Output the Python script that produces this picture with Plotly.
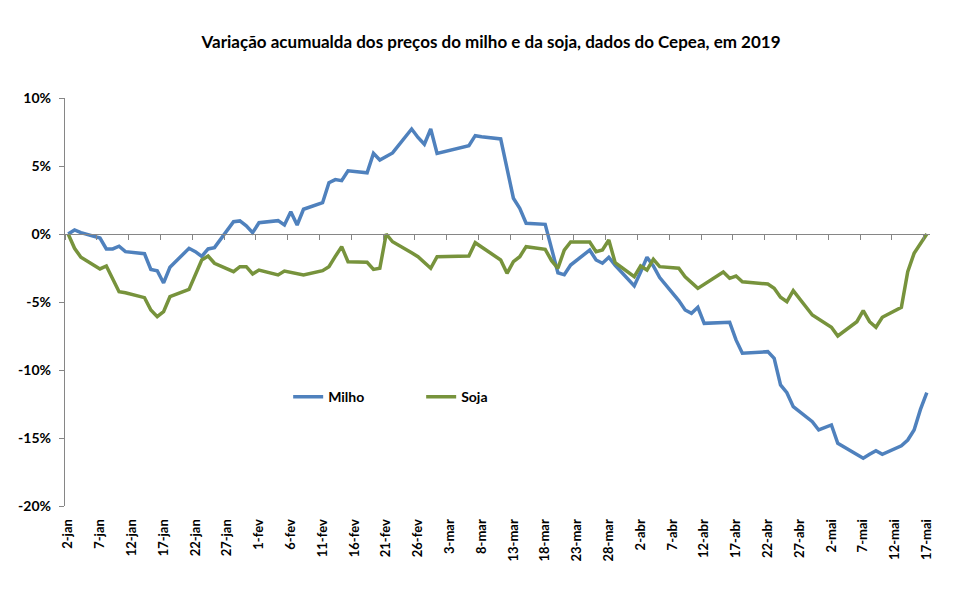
import plotly.graph_objects as go
from datetime import date, timedelta

# ---------------- data ----------------
milho_dates = ["2019-01-02","2019-01-03","2019-01-04","2019-01-07","2019-01-08","2019-01-09","2019-01-10","2019-01-11",
    "2019-01-14","2019-01-15","2019-01-16","2019-01-17","2019-01-18","2019-01-21","2019-01-22","2019-01-23","2019-01-24",
    "2019-01-25","2019-01-28","2019-01-29","2019-01-30","2019-01-31","2019-02-01","2019-02-04","2019-02-05","2019-02-06",
    "2019-02-07","2019-02-08","2019-02-11","2019-02-12","2019-02-13","2019-02-14","2019-02-15","2019-02-18","2019-02-19",
    "2019-02-20","2019-02-21","2019-02-22","2019-02-25","2019-02-26","2019-02-27","2019-02-28","2019-03-01","2019-03-06",
    "2019-03-07","2019-03-08","2019-03-11","2019-03-12","2019-03-13","2019-03-14","2019-03-15","2019-03-18","2019-03-19",
    "2019-03-20","2019-03-21","2019-03-22","2019-03-25","2019-03-26","2019-03-27","2019-03-28","2019-03-29","2019-04-01",
    "2019-04-02","2019-04-03","2019-04-04","2019-04-05","2019-04-08","2019-04-09","2019-04-10","2019-04-11","2019-04-12",
    "2019-04-15","2019-04-16","2019-04-17","2019-04-18","2019-04-22","2019-04-23","2019-04-24","2019-04-25","2019-04-26",
    "2019-04-29","2019-04-30","2019-05-02","2019-05-03","2019-05-06","2019-05-07","2019-05-08","2019-05-09","2019-05-10",
    "2019-05-13","2019-05-14","2019-05-15","2019-05-16","2019-05-17"]
milho_vals = [0.0, 0.3, 0.1, -0.3, -1.1, -1.1, -0.9, -1.3,
    -1.45, -2.6, -2.7, -3.6, -2.45, -1.05, -1.3, -1.65, -1.1,
    -1.0, 0.9, 0.96, 0.6, 0.1, 0.83, 0.98, 0.66, 1.64,
    0.66, 1.82, 2.3, 3.77, 4.0, 3.92, 4.65, 4.5, 5.93,
    5.44, 5.7, 5.96, 7.72, 7.1, 6.6, 7.72, 5.93, 6.5,
    7.23, 7.15, 6.99, 4.9, 2.63, 1.89, 0.79, 0.71, -1.1,
    -2.85, -3.0, -2.28, -1.18, -1.91, -2.15, -1.71, -2.3, -3.82,
    -2.8, -1.71, -2.35, -3.2, -4.9, -5.59, -5.83, -5.39, -6.57,
    -6.5, -6.49, -7.79, -8.77, -8.65, -9.14, -11.1, -11.67, -12.7,
    -13.8, -14.41, -14.04, -15.39, -16.2, -16.49, -16.2, -15.93, -16.2,
    -15.57, -15.15, -14.41, -12.9, -11.67]

soja_dates = ["2019-01-02","2019-01-03","2019-01-04","2019-01-07","2019-01-08","2019-01-09","2019-01-10","2019-01-11",
    "2019-01-14","2019-01-15","2019-01-16","2019-01-17","2019-01-18","2019-01-21","2019-01-22","2019-01-23","2019-01-24",
    "2019-01-25","2019-01-28","2019-01-29","2019-01-30","2019-01-31","2019-02-01","2019-02-04","2019-02-05","2019-02-08",
    "2019-02-11","2019-02-12","2019-02-13","2019-02-14","2019-02-15","2019-02-18","2019-02-19","2019-02-20","2019-02-21",
    "2019-02-22","2019-02-25","2019-02-26","2019-02-28","2019-03-01","2019-03-06","2019-03-07","2019-03-11","2019-03-12",
    "2019-03-13","2019-03-14","2019-03-15","2019-03-18","2019-03-19","2019-03-20","2019-03-21","2019-03-22","2019-03-25",
    "2019-03-26","2019-03-27","2019-03-28","2019-03-29","2019-04-01","2019-04-02","2019-04-03","2019-04-04","2019-04-05",
    "2019-04-08","2019-04-09","2019-04-11","2019-04-15","2019-04-16","2019-04-17","2019-04-18","2019-04-22","2019-04-23",
    "2019-04-24","2019-04-25","2019-04-26","2019-04-29","2019-05-02","2019-05-03","2019-05-06","2019-05-07","2019-05-08",
    "2019-05-09","2019-05-10","2019-05-13","2019-05-14","2019-05-15","2019-05-16","2019-05-17"]
soja_vals = [0.0, -1.05, -1.71, -2.57, -2.35, -3.3, -4.24, -4.32,
    -4.68, -5.59, -6.08, -5.71, -4.61, -4.07, -3.0, -1.91, -1.62,
    -2.15, -2.77, -2.4, -2.4, -2.94, -2.65, -3.01, -2.72, -3.01,
    -2.7, -2.4, -1.65, -0.93, -2.04, -2.08, -2.6, -2.52, 0.0,
    -0.57, -1.38, -1.67, -2.52, -1.67, -1.62, -0.64, -1.91, -2.89,
    -2.04, -1.67, -0.93, -1.13, -1.96, -2.52, -1.18, -0.59, -0.59,
    -1.3, -1.18, -0.44, -2.11, -3.14, -2.35, -2.65, -1.86, -2.4,
    -2.52, -3.14, -4.0, -2.79, -3.26, -3.09, -3.51, -3.68, -3.99,
    -4.65, -4.98, -4.17, -5.96, -6.86, -7.5, -6.45, -5.64, -6.45,
    -6.86, -6.12, -5.39, -2.77, -1.42, -0.7, 0.0]

tick_labels = ["2-jan","7-jan","12-jan","17-jan","22-jan","27-jan","1-fev","6-fev","11-fev","16-fev","21-fev",
    "26-fev","3-mar","8-mar","13-mar","18-mar","23-mar","28-mar","2-abr","7-abr","12-abr","17-abr","22-abr",
    "27-abr","2-mai","7-mai","12-mai","17-mai"]
y_ticks = [10, 5, 0, -5, -10, -15, -20]
y_labels = ["10%", "5%", "0%", "-5%", "-10%", "-15%", "-20%"]

title = "Variação acumualda dos preços do milho e da soja, dados do Cepea, em 2019"

# ---------------- figure ----------------
start = date(2019, 1, 2)
tick_dates = [start + timedelta(days=5 * i) for i in range(len(tick_labels))]
tick_vals = [d.isoformat() for d in tick_dates]
# tick marks sit on the boundaries between days (half a day before each label)
tick_marks = [(d - timedelta(days=1)).isoformat() + " 12:00" for d in tick_dates]
x_range = ["2019-01-01 12:00", "2019-05-17 12:00"]

FONT = "Lato, 'Open Sans', sans-serif"
AXC = "#868686"

fig = go.Figure()
fig.add_trace(go.Scatter(x=milho_dates, y=milho_vals, mode="lines", name="Milho",
                         line=dict(color="#4F81BD", width=3.5)))
fig.add_trace(go.Scatter(x=soja_dates, y=soja_vals, mode="lines", name="Soja",
                         line=dict(color="#77933C", width=3.5)))
# invisible trace to activate xaxis2 (tick marks on the zero line)
fig.add_trace(go.Scatter(x=[x_range[0]], y=[0], xaxis="x2", mode="lines",
                         showlegend=False, hoverinfo="skip", line=dict(width=0)))

fig.update_layout(
    width=961, height=594,
    margin=dict(l=65, r=31, t=98, b=88),
    paper_bgcolor="white", plot_bgcolor="white",
    font=dict(family=FONT, color="black", size=12),
    title=dict(text="<b>" + title + "</b>", x=0.511, xanchor="center", y=0.929, yanchor="middle",
               font=dict(size=17, family=FONT, color="black")),
    showlegend=True,
    legend=dict(orientation="h", x=0.258, xanchor="left", y=0.267, yanchor="middle",
                font=dict(size=14, family=FONT, color="black", weight="bold"),
                bgcolor="rgba(0,0,0,0)", itemwidth=30, entrywidth=88),
    xaxis=dict(type="date", range=x_range, tickmode="array", tickvals=tick_vals, ticktext=tick_labels,
               tickangle=-90, showgrid=False, zeroline=False, showline=False,
               ticks="outside", ticklen=7, tickcolor="rgba(0,0,0,0)",
               tickfont=dict(size=13, family=FONT, color="black", weight="bold")),
    xaxis2=dict(type="date", range=x_range, overlaying="x", anchor="free", position=2 / 3, side="bottom",
                tickmode="array", tickvals=tick_marks, showticklabels=False,
                showline=True, linecolor=AXC, linewidth=1.3, ticks="outside", ticklen=5,
                tickcolor=AXC, tickwidth=1.3, showgrid=False, zeroline=False),
    yaxis=dict(range=[-20, 10], tickmode="array", tickvals=y_ticks, ticktext=y_labels,
               showgrid=False, zeroline=False, showline=True, linecolor=AXC, linewidth=1.3,
               ticks="outside", ticklen=5, tickcolor=AXC, tickwidth=1.3, ticklabelstandoff=5,
               tickfont=dict(size=14, family=FONT, color="black", weight="bold")),
)

fig.write_html("out.html")
